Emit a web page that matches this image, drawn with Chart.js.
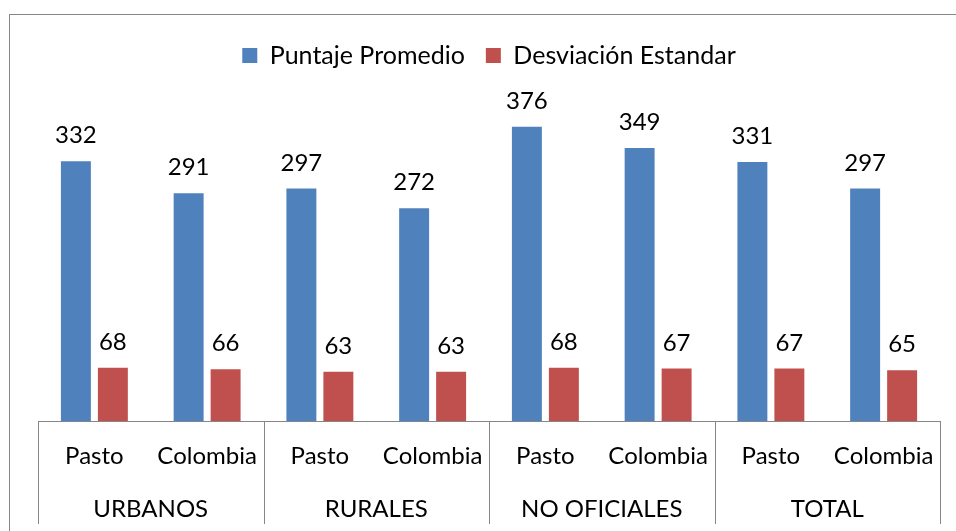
<!DOCTYPE html>
<html>
<head>
<meta charset="utf-8">
<script src="https://cdn.jsdelivr.net/npm/chart.js@4.4.1/dist/chart.umd.min.js"></script>
<style>
  html, body { margin: 0; padding: 0; background: #fff; }
  #wrap { position: relative; width: 956px; height: 531px; overflow: hidden; }
  #frame { position: absolute; left: 9px; top: 14px; width: 1200px; height: 1200px; border: 1px solid #868686; box-sizing: border-box; pointer-events: none; }
  canvas { position: absolute; left: 0; top: 0; }
</style>
</head>
<body>
<div id="wrap">
  <canvas id="c" width="956" height="531"></canvas>
  <div id="frame"></div>
</div>
<script>
const subCategories = ['Pasto', 'Colombia', 'Pasto', 'Colombia', 'Pasto', 'Colombia', 'Pasto', 'Colombia'];
const groupLabels = ['URBANOS', 'RURALES', 'NO OFICIALES', 'TOTAL'];
const puntajePromedio = [332, 291, 297, 272, 376, 349, 331, 297];
const desviacionEstandar = [68, 66, 63, 63, 68, 67, 67, 65];
const seriesNames = ['Puntaje Promedio', 'Desviación Estandar'];

const FONT = 'Lato, "Noto Sans", sans-serif';

const legendSpacer = {
  id: 'legendSpacer',
  beforeInit(chart) {
    const lg = chart.legend;
    if (!lg) return;
    const orig = lg.fit;
    lg.fit = function () { orig.call(this); this.height += 30; };
  }
};

const valueLabels = {
  id: 'valueLabels',
  afterDatasetsDraw(chart) {
    const ctx = chart.ctx;
    ctx.save();
    ctx.font = '24px ' + FONT;
    ctx.fillStyle = '#000';
    ctx.textAlign = 'center';
    ctx.textBaseline = 'alphabetic';
    chart.data.datasets.forEach((ds, di) => {
      const meta = chart.getDatasetMeta(di);
      meta.data.forEach((el, i) => {
        ctx.fillText(String(ds.data[i]), el.x, el.y - 18);
      });
    });
    ctx.restore();
  }
};

const groupSeparators = {
  id: 'groupSeparators',
  afterDraw(chart) {
    const xs = chart.scales.x, x2 = chart.scales.x2;
    const ctx = chart.ctx;
    ctx.save();
    ctx.strokeStyle = '#868686';
    ctx.lineWidth = 1;
    for (let i = 0; i <= subCategories.length; i += 2) {
      const px = Math.round(xs.getPixelForValue(i - 0.5)) + 0.5;
      ctx.beginPath();
      ctx.moveTo(px, xs.top);
      ctx.lineTo(px, x2.bottom);
      ctx.stroke();
    }
    ctx.restore();
  }
};

new Chart(document.getElementById('c'), {
  type: 'bar',
  data: {
    labels: subCategories,
    datasets: [
      { label: seriesNames[0], data: puntajePromedio, backgroundColor: '#4F81BD', borderWidth: 0 },
      { label: seriesNames[1], data: desviacionEstandar, backgroundColor: '#C0504D', borderWidth: 0 }
    ]
  },
  options: {
    responsive: false,
    animation: false,
    devicePixelRatio: 1,
    layout: { padding: { left: 38, right: 16, top: 22, bottom: 7 } },
    datasets: { bar: { categoryPercentage: 0.656, barPercentage: 0.81 } },
    plugins: {
      tooltip: { enabled: false },
      legend: {
        position: 'top',
        labels: {
          font: { family: FONT, size: 25 },
          color: '#000',
          boxWidth: 15,
          boxHeight: 15,
          padding: 21
        }
      }
    },
    scales: {
      y: { display: false, min: 0, max: 400 },
      x: {
        weight: 0,
        grid: { display: false },
        border: { display: true, color: '#868686', width: 1 },
        ticks: { font: { family: FONT, size: 24 }, color: '#000', padding: 13, maxRotation: 0, autoSkip: false },
        afterFit(s) { s.height = 50; }
      },
      x2: {
        type: 'category',
        position: 'bottom',
        weight: 1,
        labels: groupLabels,
        offset: true,
        grid: { display: false },
        border: { display: false },
        ticks: { font: { family: FONT, size: 24 }, color: '#000', padding: 16, maxRotation: 0, autoSkip: false },
        afterFit(s) { s.height = 53; }
      }
    }
  },
  plugins: [legendSpacer, valueLabels, groupSeparators]
});
</script>
</body>
</html>
